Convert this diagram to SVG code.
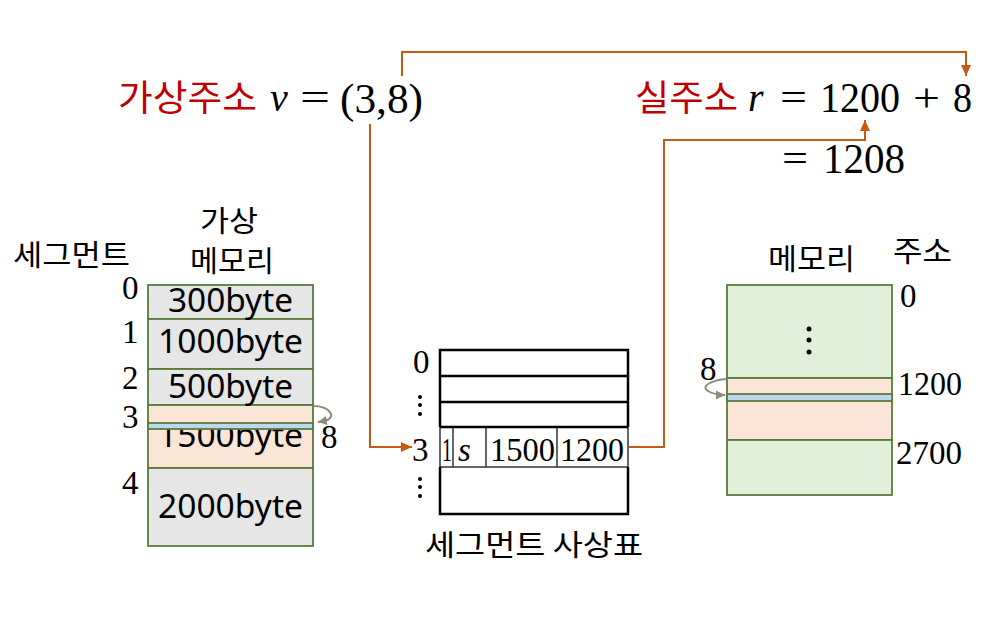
<svg xmlns="http://www.w3.org/2000/svg" width="1005" height="620" viewBox="0 0 1005 620">
<style>
.kr{font-family:"Noto Sans CJK KR","Noto Sans",sans-serif;font-weight:400;}
.red{fill:#C00000;}
.math{font-family:"Liberation Serif","DejaVu Serif",serif;fill:#000;}
.it{font-style:italic;}
.box{font-family:"Noto Sans","Noto Sans CJK KR",sans-serif;font-size:32px;fill:#000;}
.num{font-family:"Liberation Serif",serif;font-size:33px;fill:#000;}
.seg{stroke:#5B7A3D;stroke-width:1.8;}
.gray{fill:#E7E6E6;}
.peach{fill:#FBE5D6;}
.blue{fill:#BDD7EE;}
.green{fill:#E2EFD9;}
.conn{fill:none;stroke:#C55A11;stroke-width:2;}
.curl{fill:none;stroke:#8C8C7C;stroke-width:2;}
.tb{fill:none;stroke:#000;stroke-width:2.5;}
.tc{fill:none;stroke:#333;stroke-width:1.5;}
</style>
<defs>
<marker id="ah" markerUnits="userSpaceOnUse" markerWidth="12" markerHeight="12" viewBox="0 0 12 12" refX="11" refY="6" orient="auto">
<path d="M0,1 L11,6 L0,11 Z" fill="#C55A11"/>
</marker>
<marker id="ag" markerUnits="userSpaceOnUse" markerWidth="10" markerHeight="10" viewBox="0 0 10 10" refX="9" refY="5" orient="auto">
<path d="M0,0.5 L9,5 L0,9.5 Z" fill="#8C8C7C"/>
</marker>
</defs>

<g id="virtual-address">
<text class="kr red" x="118" y="111" font-size="36" textLength="139" lengthAdjust="spacingAndGlyphs">가상주소</text>
<text class="math it" x="270" y="111" font-size="40">v</text>
<text class="math" x="300" y="111" font-size="40" textLength="30" lengthAdjust="spacingAndGlyphs">=</text>
<text class="math" x="340" y="113" font-size="43" textLength="83" lengthAdjust="spacingAndGlyphs">(3,8)</text>
</g>

<g id="real-address">
<text class="kr red" x="635" y="111" font-size="36" textLength="103" lengthAdjust="spacingAndGlyphs">실주소</text>
<text class="math it" x="748" y="111" font-size="40">r</text>
<text class="math" x="780" y="111" font-size="40" textLength="27" lengthAdjust="spacingAndGlyphs">=</text>
<text class="math" x="820" y="112" font-size="42" textLength="80" lengthAdjust="spacingAndGlyphs">1200</text>
<text class="math" x="913" y="111" font-size="40" textLength="27" lengthAdjust="spacingAndGlyphs">+</text>
<text class="math" x="953" y="112" font-size="42" textLength="19" lengthAdjust="spacingAndGlyphs">8</text>
<text class="math" x="782" y="172" font-size="40" textLength="26" lengthAdjust="spacingAndGlyphs">=</text>
<text class="math" x="823" y="173" font-size="42" textLength="82" lengthAdjust="spacingAndGlyphs">1208</text>
</g>

<g id="virtual-memory">
<text class="kr" x="13" y="266" font-size="29" textLength="117" lengthAdjust="spacingAndGlyphs">세그먼트</text>
<text class="kr" x="200" y="232" font-size="29" textLength="58" lengthAdjust="spacingAndGlyphs">가상</text>
<text class="kr" x="190" y="272" font-size="29" textLength="84" lengthAdjust="spacingAndGlyphs">메모리</text>
<rect class="gray seg" x="148" y="285" width="165" height="34"/>
<rect class="gray seg" x="148" y="319" width="165" height="50"/>
<rect class="gray seg" x="148" y="369" width="165" height="36"/>
<rect class="peach seg" x="148" y="405" width="165" height="63"/>
<rect class="gray seg" x="148" y="468" width="165" height="78"/>
<text class="box" x="168" y="312" textLength="125" lengthAdjust="spacingAndGlyphs">300byte</text>
<text class="box" x="158" y="353" textLength="145" lengthAdjust="spacingAndGlyphs">1000byte</text>
<text class="box" x="168" y="398" textLength="125" lengthAdjust="spacingAndGlyphs">500byte</text>
<text class="box" x="158" y="447" textLength="145" lengthAdjust="spacingAndGlyphs">1500byte</text>
<rect class="peach" x="149" y="406" width="163" height="17"/>
<rect class="blue seg" x="148" y="423" width="165" height="6"/>
<text class="box" x="158" y="518" textLength="145" lengthAdjust="spacingAndGlyphs">2000byte</text>
<text class="num" x="122" y="299">0</text>
<text class="num" x="122" y="343">1</text>
<text class="num" x="122" y="389">2</text>
<text class="num" x="122" y="428">3</text>
<text class="num" x="122" y="494">4</text>
<path class="curl" d="M313,406 C330,406 338,418 324,421 L318,422" marker-end="url(#ag)"/>
<text class="num" x="321" y="448">8</text>
</g>

<g id="segment-table">
<line class="tc" x1="440" y1="467" x2="628" y2="467"/>
<line class="tc" x1="440" y1="427" x2="440" y2="467"/>
<line class="tc" x1="628" y1="427" x2="628" y2="467"/>
<line class="tc" x1="453" y1="427" x2="453" y2="467"/>
<line class="tc" x1="486" y1="427" x2="486" y2="467"/>
<line class="tc" x1="557" y1="427" x2="557" y2="467"/>
<path class="tb" d="M440,427 V350 H628 V427 M440,376 H628 M440,402 H628 M440,427 H628 M440,467 V514 H628 V467"/>
<text class="num" x="413" y="373">0</text>
<circle cx="420" cy="397" r="2"/>
<circle cx="420" cy="405" r="2"/>
<circle cx="420" cy="414" r="2"/>
<text class="num" x="412" y="461">3</text>
<circle cx="420" cy="479" r="2"/>
<circle cx="420" cy="487" r="2"/>
<circle cx="420" cy="496" r="2"/>
<text class="num" x="442" y="461" font-size="35" textLength="10" lengthAdjust="spacingAndGlyphs">1</text>
<text class="num it" x="458" y="461" font-size="35">s</text>
<text class="num" x="490" y="461" font-size="36" textLength="65" lengthAdjust="spacingAndGlyphs">1500</text>
<text class="num" x="560" y="461" font-size="36" textLength="64" lengthAdjust="spacingAndGlyphs">1200</text>
<text class="kr" x="425" y="556" font-size="29" textLength="218" lengthAdjust="spacingAndGlyphs">세그먼트 사상표</text>
</g>

<g id="physical-memory">
<text class="kr" x="768" y="270" font-size="29" textLength="87" lengthAdjust="spacingAndGlyphs">메모리</text>
<text class="kr" x="893" y="262" font-size="29" textLength="59" lengthAdjust="spacingAndGlyphs">주소</text>
<rect class="green seg" x="727" y="285" width="165" height="93"/>
<rect class="peach seg" x="727" y="378" width="165" height="62"/>
<rect class="blue seg" x="727" y="394" width="165" height="7"/>
<rect class="green seg" x="727" y="440" width="165" height="55"/>
<circle cx="809" cy="329" r="2.5"/>
<circle cx="809" cy="340" r="2.5"/>
<circle cx="809" cy="352" r="2.5"/>
<text class="num" x="900" y="307">0</text>
<text class="num" x="898" y="395" font-size="34" textLength="64" lengthAdjust="spacingAndGlyphs">1200</text>
<text class="num" x="896" y="464" font-size="34" textLength="66" lengthAdjust="spacingAndGlyphs">2700</text>
<text class="num" x="700" y="380">8</text>
<path class="curl" d="M727,379 C712,380 700,386 708,391 C713,394 718,395 725,395" marker-end="url(#ag)"/>
</g>

<g id="connectors">
<path class="conn" d="M370,124 V447 H412" marker-end="url(#ah)"/>
<path class="conn" d="M402,76 V52 H966 V76" marker-end="url(#ah)"/>
<path class="conn" d="M629,447 H664 V140 H865 V120" marker-end="url(#ah)"/>
</g>
</svg>
